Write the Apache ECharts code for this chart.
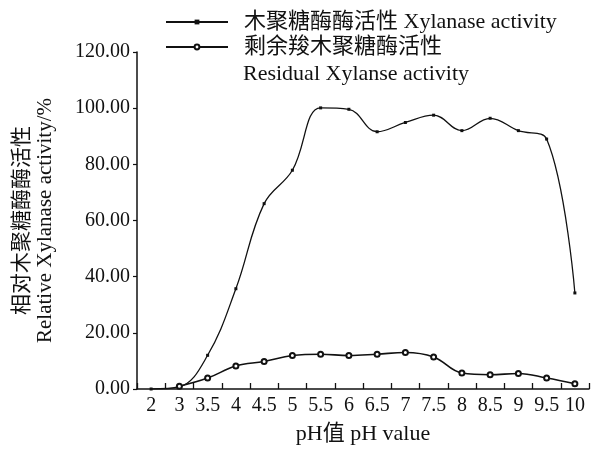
<!DOCTYPE html>
<html>
<head>
<meta charset="utf-8">
<script src="https://cdn.jsdelivr.net/npm/echarts@6/dist/echarts.min.js"></script>
<style>html,body{margin:0;padding:0;background:#fff;}#c{width:595px;height:450px;}</style>
</head>
<body>
<div id="c"></div>
<script>
var categories = ['2','3','3.5','4','4.5','5','5.5','6','6.5','7','7.5','8','8.5','9','9.5','10'];
var xylanase = [0, 0.8, 12, 35.7, 66, 77.9, 100.1, 99.6, 91.6, 94.9, 97.5, 92, 96.4, 92, 89, 34.2];
var residual = [null, 1, 3.9, 8.2, 9.8, 11.9, 12.4, 11.9, 12.4, 13, 11.4, 5.7, 5.1, 5.5, 3.9, 1.9];
var nameXyl = '木聚糖酶酶活性 Xylanase activity';
var nameRes = '剩余羧木聚糖酶活性';
var nameResEn = 'Residual Xylanse activity';
var ff = "'Liberation Serif','Times New Roman','Noto Sans CJK SC',serif";
var ink = '#111';

var chart = echarts.init(document.getElementById('c'));
chart.setOption({
  backgroundColor: '#fff',
  animation: false,
  textStyle: {fontFamily: ff, color: ink},
  grid: {left: 137, right: 6, top: 52, bottom: 58},
  legend: {
    orient: 'vertical',
    left: 165, top: 11, padding: 0,
    itemWidth: 62, itemHeight: 6, itemGap: 3,
    textStyle: {fontFamily: ff, fontSize: 22, color: ink, lineHeight: 22, padding: [0,0,0,11]},
    data: [nameXyl, nameRes]
  },
  graphic: [{
    type: 'text', left: 243, top: 63,
    style: {text: nameResEn, font: "22px 'Liberation Serif','Noto Sans CJK SC',serif", fill: ink}
  }],
  xAxis: {
    type: 'category',
    data: categories,
    boundaryGap: true,
    name: 'pH值 pH value',
    nameLocation: 'middle',
    nameGap: 34,
    nameTextStyle: {fontFamily: ff, fontSize: 22, color: ink},
    axisLine: {lineStyle: {color: ink, width: 1.5}},
    axisTick: {show: true, inside: true, length: 6, lineStyle: {color: ink, width: 1.3}},
    axisLabel: {fontFamily: ff, fontSize: 20, color: ink, margin: 7, interval: 0},
    splitLine: {show: false}
  },
  yAxis: {
    type: 'value',
    min: 0, max: 120, interval: 20,
    name: '相对木聚糖酶酶活性\nRelative Xylanase activity/%',
    nameLocation: 'middle',
    nameRotate: 90,
    nameGap: 80,
    nameTextStyle: {fontFamily: ff, fontSize: 21, color: ink, lineHeight: 23},
    axisLine: {show: true, lineStyle: {color: ink, width: 1.5}},
    axisTick: {show: true, length: 4, lineStyle: {color: ink, width: 1.2}},
    axisLabel: {fontFamily: ff, fontSize: 20, color: ink, margin: 7,
      formatter: function (v) { return v.toFixed(2); }},
    splitLine: {show: false}
  },
  series: [{
    name: nameXyl,
    type: 'line',
    data: xylanase,
    smooth: 0.4,
    symbol: 'rect',
    symbolSize: 3,
    lineStyle: {color: ink, width: 1.3},
    itemStyle: {color: ink}
  }, {
    name: nameRes,
    type: 'line',
    data: residual,
    smooth: 0.4,
    symbol: 'emptyCircle',
    symbolSize: 5,
    lineStyle: {color: ink, width: 1.6},
    itemStyle: {color: ink, borderColor: ink, borderWidth: 1}
  }]
});
</script>
</body>
</html>
